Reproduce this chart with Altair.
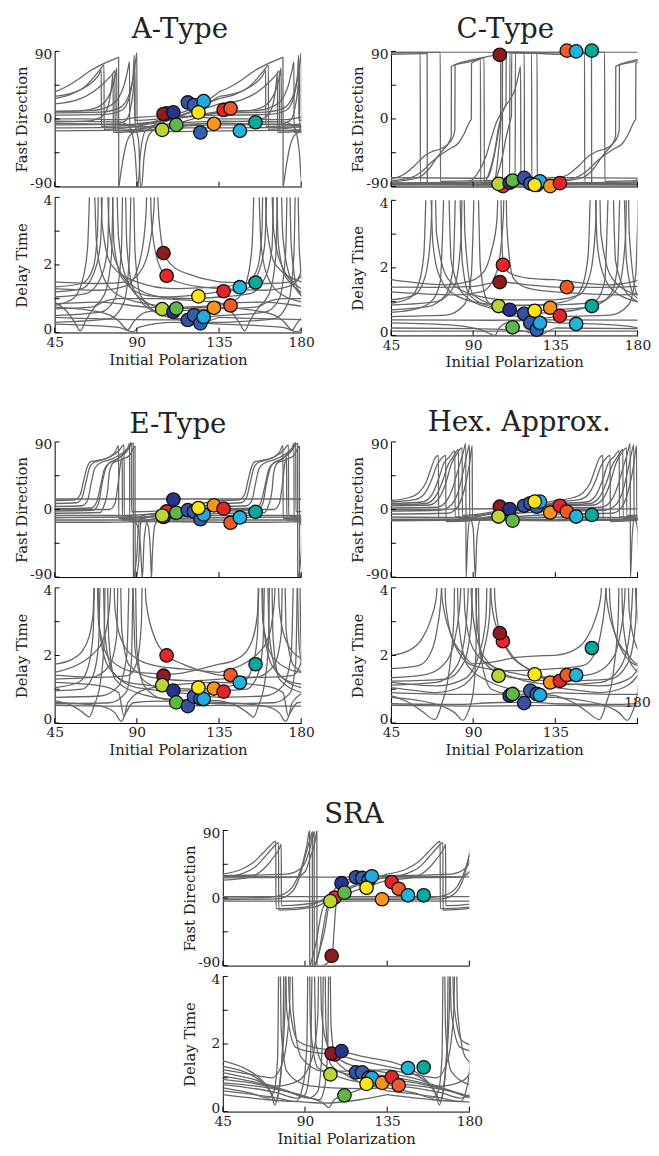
import altair as alt
import pandas as pd

FONT = "DejaVu Serif"
LINE_COLOR = "#666666"
TEXT_COLOR = "#222222"
PERIOD = 90  # the curves repeat every 90 degrees of initial polarization

X_DOMAIN = [45, 180]
FAST_DOMAIN = [-90, 90]
DELAY_DOMAIN = [0, 4]
X_LABELS = [45, 90, 135, 180]
X_TICKS = [45, 90, 135, 180]
FAST_LABELS = [-90, 0, 90]
FAST_TICKS = [-90, -45, 0, 45, 90]
DELAY_TICKS = [0, 1, 2, 3, 4]

# events (drawing order): red, darkred, yellowgreen, darkblue, green, blue a, blue b, blue c,
# light blue, yellow, orange, red 2, orange-red, cyan, teal
EVENT_X = [106.3, 104.6, 103.9, 110.0, 111.6, 117.9, 121.3, 124.8, 126.6, 123.7, 132.2, 137.5, 141.3, 146.4, 155.0]
EVENT_COLORS = ["#E8262B", "#8E1B1E", "#B9D433", "#27348B", "#5DB848", "#3650A2", "#3A5BAA", "#2C62AE",
                "#21A9E1", "#FFE512", "#F7941E", "#E1262A", "#F05A28", "#22B3DD", "#06A89C"]

A_FAST_DOTS = [7.5, 6.6, -14.5, 8.8, -7.9, 22, 18.4, -18, 23.7, 8.8, -6.6, 12, 14, -15.8, -4.4]
A_DELAY_DOTS = [1.68, 2.35, 0.69, 0.61, 0.71, 0.37, 0.51, 0.27, 0.46, 1.07, 0.73, 1.22, 0.80, 1.34, 1.48]
C_FAST_DOTS = [-89.5, 85.5, -86.5, -85, -82, -78.5, -86, -88, -83, -88, -89.5, -85.5, 91, 90, 91]
C_DELAY_DOTS = [2.09, 1.58, 0.87, 0.76, 0.24, 0.64, 0.37, 0.17, 0.37, 0.73, 0.82, 0.58, 1.43, 0.34, 0.87]
E_FAST_DOTS = [-2.6, -10, -8, 13.3, -4.4, -0.9, -3, -13, -6.6, 2, 5.5, 1.1, -17.6, -10.6, -3.1]
E_DELAY_DOTS = [2.0, 1.40, 1.12, 0.96, 0.61, 0.50, 0.78, 0.72, 0.71, 1.05, 1.02, 0.93, 1.42, 1.20, 1.74]
H_FAST_DOTS = [-0.7, 3.7, -9.4, 0.6, -14.8, 5, 8.3, 3.7, 10.5, 10.5, -4, 5, -2.8, -9.4, -7.2]
H_DELAY_DOTS = [2.42, 2.66, 1.40, 0.81, 0.86, 0.59, 0.96, 0.86, 0.83, 1.44, 1.2, 1.25, 1.42, 1.42, 2.22]
S_FAST_DOTS = [0.7, -77, -4.1, 19.8, 7.2, 27.7, 26.8, 24, 29, 13.7, -1.6, 21.2, 12.4, 3.7, 3.7]
S_DELAY_DOTS = [1.69, 1.72, 1.10, 1.79, 0.48, 1.16, 1.16, 1.0, 1.0, 0.82, 0.85, 1.02, 0.78, 1.29, 1.31]

# ---- curves, read over one period (45..135); None breaks a curve ----
A_FAST = [
    [(45, 36), (52, 44), (58, 53), (63, 62), (68, 69), (73, 75), (78, 80), (80, 82), (80.1, -92), None,
     (80.1, -92), (82, -60), (84, -35), (87, -20), (95, -12), (110, 0), (125, 18), (135, 36)],
    [(45, 27), (55, 34), (62, 44), (67, 57), (70, 66), (72, 72), (72.1, -14), (90, -10), (105, 1), (120, 13), (135, 27)],
    [(45, 10), (60, 11), (68, 15), (73, 24), (76, 38), (78, 55), (79, 68), (79.1, -8), (95, -6), (115, 2), (135, 10)],
    [(45, 10), (65, 11), (74, 16), (80, 28), (83, 45), (85, 65), (86, 76), (86.1, -18), (100, -14), (118, -2), (135, 10)],
    [(45, 8), (70, 9), (80, 14), (85, 28), (88, 55), (89.5, 80), (90, 88), (90.1, -6), (110, 0), (125, 5), (135, 8)],
    [(45, 5), (72, 6), (82, 12), (86, 30), (88, 60), (88.6, 85), (88.7, -2), (110, 2), (135, 5)],
    [(45, -4), (62, -3), (70, 2), (74, 15), (76, 40), (77, 60), (77.1, -18), (100, -14), (120, -8), (135, -4)],
    [(45, -8), (78, -7), (84, -2), (87, 20), (88.5, 50), (89, 70), (89.1, -12), (110, -10), (135, -8)],
    [(45, -12), (85, -11), (95, -10), (115, -12), (135, -12)],
    [(45, -16), (90, -15), (110, -17), (135, -16)],
    [(45, -3), (80, -4), (86, -10), (89, -45), (90.5, -92), (92, -45), (95, -15), (110, -6), (135, -3)],
    [(45, -6), (88, -8), (91, -30), (92, -92), (92.5, -92), (94, -50), (97, -20), (105, -8), (135, -6)],
    [(45, 0), (60, 0), (80, -1), (90, 2), (110, 4), (135, 0)],
    [(45, 30), (60, 40), (66, 50), (69, 58), (70.5, 65), (70.6, -10), (100, -6), (120, 10), (135, 30)],
    [(45, 20), (58, 26), (66, 36), (72, 48), (76, 58), (78, 64), (78.1, -16), (95, -12), (112, 4), (125, 12), (135, 20)],
]
A_DELAY = [
    [(45, 1.5), (70, 1.45), (85, 1.5), (93, 1.9), (97, 2.6), (99.5, 3.8), (100.5, 6), (101.5, 4), (103, 2.9), (105, 2.35), (110, 1.95), (120, 1.7), (135, 1.5)],
    [(45, 1.3), (70, 1.25), (85, 1.4), (92, 2.2), (95, 3.5), (96.5, 6), (98, 3.3), (101, 2.2), (106, 1.68), (115, 1.45), (125, 1.35), (135, 1.3)],
    [(45, 0.8), (55, 1.0), (60, 1.5), (63, 2.5), (65.5, 6), (68, 2.6), (72, 1.6), (80, 1.1), (95, 0.85), (115, 0.75), (135, 0.8)],
    [(45, 1.2), (60, 1.3), (66, 1.7), (70, 2.6), (72.5, 6), (75, 3), (80, 1.9), (90, 1.3), (105, 1.05), (120, 1.1), (135, 1.2)],
    [(45, 0.7), (65, 0.75), (72, 1.1), (76, 2.2), (78, 6), (80, 2.8), (85, 1.5), (95, 0.9), (110, 0.65), (135, 0.7)],
    [(45, 0.5), (70, 0.6), (78, 1.0), (81.5, 2.4), (83, 6), (84.5, 2.6), (88, 1.3), (100, 0.6), (115, 0.4), (135, 0.5)],
    [(45, 0.3), (75, 0.4), (83, 0.9), (86, 2.3), (87.5, 6), (89, 2.4), (92, 1.1), (105, 0.5), (125, 0.3), (135, 0.3)],
    [(45, 0.9), (52, 0.6), (56, 0.3), (59, 0.05), (62, 0.35), (68, 0.8), (80, 1.0), (100, 1.0), (120, 0.95), (135, 0.9)],
    [(45, 0.75), (70, 0.6), (80, 0.35), (85, 0.08), (88, 0.3), (95, 0.6), (110, 0.7), (135, 0.75)],
    [(45, 0.25), (80, 0.15), (88, 0.02), (91, 0.15), (110, 0.3), (135, 0.25)],
    [(45, 0.45), (90, 0.38), (118, 0.37), (125, 0.3), (135, 0.45)],
    [(45, 0.85), (70, 0.9), (95, 0.75), (112, 0.71), (132, 0.74), (135, 0.8)],
    [(45, 1.35), (60, 1.45), (66, 1.9), (68.5, 3.0), (69.5, 6), (71, 3.2), (76, 2.0), (90, 1.5), (110, 1.3), (135, 1.35)],
    [(45, 1.05), (62, 1.15), (70, 1.6), (74, 2.5), (75.6, 6), (77.5, 2.6), (82, 1.6), (95, 1.1), (120, 1.0), (135, 1.05)],
]

C_FAST = [
    [(45, -80), (52, -74), (58, -62), (63, -50), (67, -44), (72, -40), (76, -34), (79, -24), (80, -14), (80.1, 72), (88, 76), (94, 80), (94.1, -86), (110, -86), (135, -80)],
    [(45, -84), (60, -78), (66, -66), (70, -52), (74, -40), (77, -30), (78, -22), (78.1, 70), (88, 78), (100, 84), (106, 87), (106.1, -87), (135, -84)],
    [(45, -86), (85, -86), (92, -74), (97, -50), (100, -25), (103, -3), (106, 10), (108, 20), (108.1, 90), (118, 89), (118.1, -88), (135, -86)],
    [(45, -88), (95, -87), (99, -70), (102, -40), (104, -10), (106, 5), (106.1, 88), (125, 89), (125.1, -88), (135, -88)],
    [(45, 88), (60, 88), (61, 89), (61.1, -86), (100, -85), (110, -84), (110.1, 88), (135, 88)],
    [(45, 89), (72, 89), (72.1, -83), (100, -82), (113, -82), (113.1, 89), (135, 89)],
    [(45, 86), (64, 87), (64.8, 87), (64.9, -87), (100, -88), (102, -80), (104, -40), (105, -10), (105.1, 89), (135, 86)],
    [(45, -78), (95, -79), (98, -78), (100, -65), (103, -30), (105, 0), (107, 14), (110, 25), (113, 40), (115, 60), (116, 70), (116.1, -80), (135, -78)],
    [(45, -82), (56, -78), (62, -70), (67, -58), (72, -48), (77, -40), (82, -32), (85, -20), (88, -4), (89, 0), (89.1, 74), (94, 80), (96, 82), (96.1, -84), (135, -82)],
    [(45, 89), (135, 89)],
    [(45, -87), (135, -87)],
    [(45, -90), (135, -89)],
    [(45, -85), (100, -84), (103, -76), (106, -50), (108, -25), (110, -5), (111, 5), (111.1, 88), (122, 88), (122.1, -86), (135, -85)],
]
C_DELAY = [
    [(45, 1.65), (60, 1.55), (75, 1.5), (88, 1.6), (96, 1.9), (100, 2.5), (103, 3.4), (104.8, 6), (105.5, 3.2), (106.6, 2.1), (110, 1.85), (120, 1.7), (135, 1.65)],
    [(45, 1.43), (70, 1.42), (90, 1.45), (100, 1.55), (104.8, 1.58), (120, 1.5), (135, 1.43)],
    [(45, 0.95), (55, 1.1), (60, 1.5), (63, 2.4), (65.5, 6), (68, 2.7), (72, 1.7), (80, 1.2), (95, 0.95), (115, 0.88), (135, 0.95)],
    [(45, 0.76), (65, 0.85), (75, 1.2), (79, 2.0), (81.5, 6), (84, 2.2), (88, 1.2), (100, 0.85), (115, 0.72), (135, 0.76)],
    [(45, 0.56), (75, 0.6), (85, 0.9), (89, 1.8), (91.8, 6), (94, 2.0), (98, 1.0), (110, 0.6), (125, 0.5), (135, 0.56)],
    [(45, 0.37), (80, 0.3), (95, 0.15), (100, 0.03), (102, 0.0), (104, 0.2), (110, 0.4), (120, 0.45), (135, 0.37)],
    [(45, 1.29), (80, 1.2), (95, 1.3), (103, 1.9), (106.5, 3.5), (107.5, 6), (108.5, 3.2), (112, 1.7), (120, 1.4), (135, 1.29)],
    [(45, 1.05), (58, 1.2), (64, 1.8), (67, 3.2), (68.5, 6), (70, 3.0), (76, 1.7), (90, 1.2), (110, 1.05), (135, 1.05)],
    [(45, 0.22), (90, 0.2), (115, 0.15), (124, 0.05), (127, 0.02), (130, 0.1), (135, 0.22)],
    [(45, 0.13), (135, 0.13)],
    [(45, 0.46), (100, 0.45), (135, 0.46)],
    [(45, 0.68), (60, 0.8), (67, 1.0), (72, 1.6), (75.5, 6), (78, 2.2), (85, 1.2), (100, 0.8), (118, 0.64), (135, 0.68)],
    [(45, 0.9), (70, 1.0), (80, 1.5), (83.5, 3), (84.5, 6), (85.5, 3), (90, 1.2), (105, 0.9), (135, 0.9)],
]

E_FAST = [
    [(45, 12), (56, 13), (59, 20), (61, 40), (63, 58), (65, 64), (70, 66), (75, 70), (78, 76), (80, 85), (80.1, -12), (95, -10), (110, 0), (125, 8), (135, 12)],
    [(45, 8), (57, 9), (60, 16), (62, 35), (64, 55), (66, 62), (71, 66), (76, 71), (80, 78), (83, 86), (83.1, -8), (105, -4), (120, 2), (135, 8)],
    [(45, 4), (60, 5), (63, 12), (65, 35), (67, 55), (70, 62), (75, 66), (80, 72), (85, 82), (86, 88), (86.1, -16), (105, -10), (120, -3), (135, 4)],
    [(45, 1), (65, 2), (68, 10), (70, 30), (72, 52), (74, 60), (78, 65), (83, 75), (86, 84), (87, 90), (87.1, -3), (110, -1), (135, 1)],
    [(45, -2), (66, -1), (69, 8), (71, 35), (73, 55), (75, 62), (79, 67), (84, 76), (88, 88), (88.1, -92), None,
     (88.2, -92), (90, -60), (91, -20), (93, -8), (110, -4), (135, -2)],
    [(45, -5), (70, -4), (72, 5), (74, 25), (75, 50), (77, 62), (81, 66), (86, 72), (89, 84), (89.1, -92), None,
     (89.2, -92), (91, -70), (92, -20), (94, -10), (115, -8), (135, -5)],
    [(45, -8), (80, -8), (86, -9), (90, -20), (92, -50), (93, -92), (94, -40), (96, -14), (110, -10), (135, -8)],
    [(45, -11), (92, -10), (96, -20), (97.5, -60), (98, -92), (98.5, -60), (100, -20), (103, -12), (135, -11)],
    [(45, -14), (135, -14)],
    [(45, -17), (70, -17), (100, -16), (135, -17)],
    [(45, 14), (135, 14)],
    [(45, 0), (75, 0), (78, 8), (80, 40), (81, 60), (82, 70), (82.1, -14), (110, -6), (135, 0)],
]
E_DELAY = [
    [(45, 1.5), (60, 1.8), (67, 2.1), (71, 2.4), (74, 3.0), (75.5, 3.8), (76.5, 6), (78, 3.4), (82, 2.4), (90, 1.9), (100, 1.7), (115, 1.6), (135, 1.5)],
    [(45, 1.42), (70, 1.35), (85, 1.4), (90, 1.8), (92.5, 3), (93.5, 6), (95, 3.6), (100, 2.5), (106.6, 2.0), (115, 1.75), (125, 1.55), (135, 1.42)],
    [(45, 1.05), (58, 1.2), (63, 1.6), (66, 2.6), (67.8, 6), (69.5, 2.8), (74, 1.7), (85, 1.2), (100, 1.1), (120, 1.0), (135, 1.05)],
    [(45, 0.95), (60, 1.0), (66, 1.4), (69, 2.3), (70.8, 6), (72.5, 2.6), (77, 1.5), (90, 1.05), (110, 0.95), (135, 0.95)],
    [(45, 0.76), (70, 0.8), (80, 1.1), (84.5, 2.0), (86.8, 6), (89, 2.2), (93, 1.3), (104, 1.0), (120, 0.85), (135, 0.76)],
    [(45, 0.66), (55, 0.5), (60, 0.33), (64, 0.18), (66.5, 0.5), (70, 1.2), (72, 2.3), (73.3, 6), (74.6, 2.5), (78, 1.3), (90, 0.9), (110, 0.7), (135, 0.66)],
    [(45, 0.61), (70, 0.5), (78, 0.3), (81.5, 0.05), (84, 0.3), (88, 0.6), (100, 0.65), (135, 0.61)],
    [(45, 0.57), (75, 0.6), (84, 0.9), (87, 1.8), (88.6, 6), (90, 2.2), (94, 1.1), (105, 0.7), (135, 0.57)],
    [(45, 0.52), (80, 0.5), (100, 0.5), (135, 0.52)],
    [(45, 1.74), (55, 1.9), (62, 2.3), (66, 3.2), (67.5, 6), (69, 3.0), (75, 1.9), (90, 1.5), (110, 1.45), (125, 1.6), (135, 1.74)],
    [(45, 1.2), (70, 1.1), (80, 0.9), (83, 0.2), (85, 0.6), (95, 1.0), (115, 1.15), (135, 1.2)],
    [(45, 1.3), (65, 1.35), (75, 1.7), (79, 2.6), (80.3, 6), (81.8, 2.7), (86, 1.7), (98, 1.35), (120, 1.25), (135, 1.3)],
]

H_FAST = [
    [(45, 12), (55, 16), (60, 22), (64, 35), (67, 55), (69, 68), (71, 72), (71.1, -14), (95, -12), (115, 0), (135, 12)],
    [(45, 10), (58, 13), (63, 20), (67, 38), (70, 58), (72, 66), (75, 72), (75.1, -16), (100, -12), (120, 0), (135, 10)],
    [(45, 8), (62, 10), (67, 18), (71, 40), (74, 62), (77, 70), (80, 78), (80.1, -10), (105, -4), (135, 8)],
    [(45, 5), (66, 6), (71, 14), (75, 35), (78, 60), (81, 74), (84, 82), (84.1, -8), (110, 0), (135, 5)],
    [(45, 2), (70, 3), (75, 10), (79, 30), (82, 55), (84.5, 75), (86, 88), (86.1, -92), (87, -40), (88, -15), (100, -5), (120, 0), (135, 2)],
    [(45, -2), (72, -1), (78, 6), (82, 25), (85, 55), (87, 78), (88, 86), (88.1, -12), (110, -6), (135, -2)],
    [(45, -6), (76, -5), (81, 2), (85, 25), (88, 60), (89.5, 85), (89.6, -14), (110, -10), (135, -6)],
    [(45, -10), (88, -11), (90, -25), (91.2, -92), (92, -40), (94, -14), (135, -10)],
    [(45, -13), (135, -13)],
    [(45, -15), (90, -14), (135, -15)],
    [(45, 0), (100, 1), (115, 3), (124, 5), (135, 0)],
    [(45, 6), (64, 8), (69, 16), (73, 36), (76, 58), (79, 70), (82, 80), (82.1, -12), (108, -2), (135, 6)],
]
H_DELAY = [
    [(45, 2.0), (55, 2.15), (62, 2.5), (67, 3.1), (70, 3.8), (71.5, 6), (73, 3.7), (78, 2.6), (85, 2.0), (90, 1.75), (100, 1.8), (115, 1.95), (135, 2.0)],
    [(45, 1.05), (60, 0.95), (70, 0.9), (80, 1.0), (90, 1.4), (96, 2.2), (99, 3.2), (100.5, 6), (102, 3.6), (104.7, 2.66), (110, 2.05), (120, 1.6), (130, 1.25), (135, 1.05)],
    [(45, 1.2), (70, 1.1), (85, 1.3), (93, 2.0), (97, 3.1), (98.5, 6), (100, 3.6), (103, 2.8), (106.4, 2.42), (112, 1.95), (122, 1.55), (135, 1.2)],
    [(45, 1.61), (60, 1.7), (66, 2.0), (70, 2.7), (72.5, 3.8), (73.5, 6), (75, 3.5), (80, 2.3), (90, 1.7), (110, 1.55), (135, 1.61)],
    [(45, 0.81), (55, 0.6), (62, 0.35), (69, 0.1), (73, 0.6), (77, 1.6), (79.5, 3.2), (80.5, 6), (82, 3.0), (87, 1.7), (100, 1.2), (115, 0.95), (135, 0.81)],
    [(45, 1.34), (65, 1.45), (75, 1.8), (80, 2.5), (83, 3.7), (84, 6), (85.5, 3.3), (90, 2.2), (100, 1.7), (115, 1.45), (135, 1.34)],
    [(45, 1.12), (70, 1.2), (80, 1.6), (85, 2.4), (87.3, 3.9), (88, 6), (89, 3.8), (92, 2.5), (100, 1.7), (115, 1.3), (135, 1.12)],
    [(45, 0.76), (70, 0.55), (80, 0.3), (84.4, 0.08), (87, 0.3), (90, 0.9), (91.5, 2), (92.3, 6), (93.5, 2.2), (100, 1.0), (115, 0.8), (135, 0.76)],
    [(45, 0.57), (80, 0.55), (100, 0.6), (120, 0.62), (135, 0.57)],
    [(45, 0.52), (90, 0.5), (135, 0.52)],
    [(45, 1.24), (75, 1.3), (85, 1.8), (89, 3), (90.5, 6), (91.8, 3.2), (96, 1.8), (110, 1.35), (135, 1.24)],
    [(45, 0.9), (80, 0.85), (100, 0.85), (112, 0.86), (125, 0.84), (135, 0.9)],
]

S_FAST = [
    [(45, 32), (55, 38), (62, 48), (67, 60), (71, 70), (74, 76), (74.1, -14), (90, -12), (105, 5), (120, 20), (135, 32)],
    [(45, 28), (56, 33), (63, 42), (68, 55), (72, 66), (75.5, 74), (75.6, -16), (95, -12), (110, 8), (125, 22), (135, 28)],
    [(45, 24), (60, 28), (67, 38), (72, 52), (76, 66), (77, 72), (77.1, -10), (100, -4), (120, 12), (135, 24)],
    [(45, 30), (80, 32), (88, 40), (92, 60), (94, 80), (95, 88), (95.1, -92), None,
     (95.1, -92), (98, -70), (101, -40), (103, -10), (106, 10), (110, 22), (120, 27), (135, 30)],
    [(45, 27), (85, 28), (90, 35), (93, 55), (95.5, 75), (96.5, 90), (96.6, -92), None,
     (96.6, -92), (100, -90), (103, -85), (105, -75), (106, -40), (107, -10), (110, 10), (118, 25), (135, 27)],
    [(45, 0), (70, 1), (78, 5), (84, 18), (88, 40), (91, 70), (92.5, 90), (92.6, -92), None,
     (92.6, -92), (96, -60), (99, -20), (102, -5), (110, 0), (135, 0)],
    [(45, -2), (75, -1), (82, 6), (87, 28), (90, 55), (93, 80), (94, 88), (94.1, -92), None,
     (94.1, -92), (97, -80), (100, -40), (103, -6), (110, -2), (135, -2)],
    [(45, -4), (135, -4)],
    [(45, 2), (135, 2)],
    [(45, 29), (100, 28), (135, 29)],
]
S_DELAY = [
    [(45, 1.5), (58, 1.25), (66, 0.95), (71, 0.6), (73.5, 0.2), (75.5, 0.6), (77.5, 1.6), (79, 3), (80, 6), (81.5, 3.2), (86, 2.1), (95, 1.9), (109.5, 1.79), (120, 1.65), (135, 1.5)],
    [(45, 1.34), (60, 1.1), (68, 0.8), (72, 0.5), (74, 0.3), (76.5, 0.9), (78, 2.5), (78.8, 6), (80, 3), (85, 1.9), (95, 1.75), (105.9, 1.69), (120, 1.5), (135, 1.34)],
    [(45, 1.05), (60, 0.9), (75, 0.7), (90, 0.45), (98, 0.35), (101, 0.8), (102.5, 2), (103.3, 6), (104.3, 2.5), (107, 1.5), (117, 1.16), (121, 1.16), (128, 1.1), (135, 1.05)],
    [(45, 0.95), (65, 0.8), (80, 0.6), (92, 0.4), (97, 0.6), (99.5, 2.0), (100.5, 6), (101.5, 2.5), (104, 1.4), (112, 1.1), (123.6, 0.82), (130, 0.88), (135, 0.95)],
    [(45, 0.85), (70, 0.7), (90, 0.45), (100, 0.25), (103, 0.12), (106, 0.35), (111.3, 0.48), (120, 0.65), (135, 0.85)],
    [(45, 0.8), (75, 0.55), (85, 0.4), (90, 0.5), (93, 1.5), (94.5, 6), (96, 2.0), (100, 1.4), (110, 1.15), (126, 1.0), (135, 0.8)],
    [(45, 0.7), (60, 0.55), (70, 0.4), (73, 0.6), (75, 1.6), (76, 6), (77, 2.4), (80, 1.2), (90, 0.8), (105, 0.7), (120, 0.68), (135, 0.7)],
    [(45, 0.61), (75, 0.4), (85, 0.3), (89, 0.8), (91, 2.0), (92, 6), (93, 2.5), (97, 1.3), (110, 1.0), (125, 0.8), (135, 0.61)],
    [(45, 1.24), (60, 1.1), (72, 1.0), (78, 1.5), (81.5, 3.0), (82.5, 6), (83.5, 3), (88, 1.6), (100, 1.2), (115, 1.2), (135, 1.24)],
    [(45, 0.5), (70, 0.35), (90, 0.28), (100, 0.25), (120, 0.35), (135, 0.5)],
    [(45, 1.15), (62, 0.95), (74, 0.75), (86, 0.9), (94, 1.6), (97, 2.8), (98, 6), (99, 3.0), (102, 2.0), (110, 1.5), (125, 1.25), (135, 1.15)],
]

HEX_STRAY_LABEL = ("180", 180, 0.6)

W = 250
H = 137
PLAIN_LABEL = "'' + datum.value"  # keep a plain hyphen in "-90", as in the figure


def curve_df(curves):
    rows = []
    seg = 0
    for curve in curves:
        for shift in (0, PERIOD):
            seg += 1
            for p in curve:
                if p is None:
                    seg += 1
                    continue
                rows.append({"x": p[0] + shift, "y": p[1], "seg": seg})
    return pd.DataFrame(rows)


def dots_df(values):
    rows = []
    for i, (x, c, v) in enumerate(zip(EVENT_X, EVENT_COLORS, values)):
        if v is not None:
            rows.append({"x": x, "y": v, "c": c, "i": i})
    return pd.DataFrame(rows)


def subplot(curves, dots, ydomain, ylabels, yticks, ytitle, show_x, x_labels, title=None, title_dx=0, title_dy=-36):
    xs = alt.Scale(domain=X_DOMAIN, nice=False, zero=False)
    ys = alt.Scale(domain=ydomain, nice=False, zero=False)
    if show_x:
        xaxis = alt.Axis(values=x_labels, ticks=False, title="Initial Polarization", labelPadding=3,
                         titlePadding=3, domainColor="black", labelFlush=False, labelFont=FONT,
                         titleFont=FONT, labelFontSize=14, titleFontSize=15, labelColor=TEXT_COLOR,
                         titleColor=TEXT_COLOR, titleFontWeight="normal", labelExpr=PLAIN_LABEL)
    else:
        xaxis = alt.Axis(labels=False, ticks=False, title=None, domainColor="black")
    yaxis = alt.Axis(values=ylabels, ticks=False, title=ytitle, labelPadding=3, titlePadding=0,
                     minExtent=26, domainColor="black", labelFlush=True, labelFlushOffset=4,
                     labelFont=FONT, titleFont=FONT, labelFontSize=14, titleFontSize=15,
                     labelColor=TEXT_COLOR, titleColor=TEXT_COLOR, titleFontWeight="normal",
                     labelExpr=PLAIN_LABEL)
    lines = alt.Chart(curve_df(curves)).mark_line(
        clip=True, interpolate="monotone", color=LINE_COLOR, strokeWidth=1.3
    ).encode(x=alt.X("x:Q", scale=xs, axis=xaxis), y=alt.Y("y:Q", scale=ys, axis=yaxis), detail="seg:N")
    pts = alt.Chart(dots_df(dots)).mark_circle(
        size=185, opacity=1, stroke="#111", strokeWidth=1.3
    ).encode(x="x:Q", y="y:Q", color=alt.Color("c:N", scale=None), order="i:Q")
    yt = alt.Chart(pd.DataFrame({"y": yticks})).mark_rule(color="black", strokeWidth=1).encode(
        y="y:Q", x=alt.value(0), x2=alt.value(5))
    xt = alt.Chart(pd.DataFrame({"x": X_TICKS})).mark_rule(color="black", strokeWidth=1).encode(
        x="x:Q", y=alt.value(H), y2=alt.value(H - 5))
    layers = [lines, yt, xt, pts]
    if title is not None:
        tt = alt.Chart(pd.DataFrame({"t": [title]})).mark_text(
            font=FONT, fontSize=28, color=TEXT_COLOR, align="center", baseline="top"
        ).encode(text="t:N", x=alt.value(W / 2 + title_dx), y=alt.value(title_dy))
        layers.append(tt)
    return alt.layer(*layers).properties(width=W, height=H)


def panel(title, fast, delay, fdots, ddots, x_labels=X_LABELS, stray=None, title_dx=0, title_dy=-36, inner=3):
    top = subplot(fast, fdots, FAST_DOMAIN, FAST_LABELS, FAST_TICKS, "Fast Direction", False, x_labels,
                  title=title, title_dx=title_dx, title_dy=title_dy)
    bottom = subplot(delay, ddots, DELAY_DOMAIN, DELAY_TICKS, DELAY_TICKS, "Delay Time", True, x_labels)
    if stray is not None:
        txt = alt.Chart(pd.DataFrame({"t": [stray[0]], "x": [stray[1]], "y": [stray[2]]})).mark_text(
            font=FONT, fontSize=14, color=TEXT_COLOR, align="center", baseline="middle"
        ).encode(x="x:Q", y="y:Q", text="t:N")
        bottom = alt.layer(bottom, txt)
    return alt.vconcat(top, bottom, spacing=inner)


pA = panel("A-Type", A_FAST, A_DELAY, A_FAST_DOTS, A_DELAY_DOTS, title_dx=2, title_dy=-36)
pC = panel("C-Type", C_FAST, C_DELAY, C_FAST_DOTS, C_DELAY_DOTS, title_dx=-9, title_dy=-36, inner=0)
pE = panel("E-Type", E_FAST, E_DELAY, E_FAST_DOTS, E_DELAY_DOTS, title_dx=0, title_dy=-31)
pH = panel("Hex. Approx.", H_FAST, H_DELAY, H_FAST_DOTS, H_DELAY_DOTS, x_labels=[45, 90, 135],
           stray=HEX_STRAY_LABEL, title_dx=5, title_dy=-33)
pS = panel("SRA", S_FAST, S_DELAY, S_FAST_DOTS, S_DELAY_DOTS, title_dx=8, title_dy=-30)

upper = alt.vconcat(
    alt.hconcat(pA, pC, spacing=36),
    alt.hconcat(pE, pH, spacing=36),
    spacing=40,
)

chart = alt.vconcat(
    upper, pS, spacing=44, center=True,
    padding={"left": 6, "top": 0, "right": 0, "bottom": 0},
).configure(font=FONT).configure_view(stroke=None).configure_axis(
    grid=False, domainWidth=1, labelFont=FONT, titleFont=FONT
)

chart.save("out.html", embed_options={"renderer": "svg", "actions": False})
